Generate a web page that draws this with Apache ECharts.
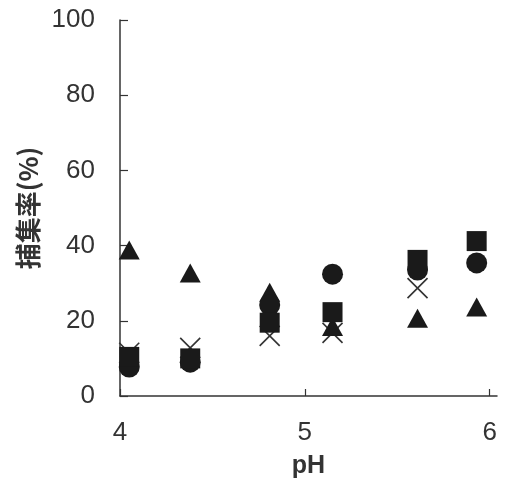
<!DOCTYPE html>
<html>
<head>
<meta charset="utf-8">
<script src="https://cdn.jsdelivr.net/npm/echarts@6/dist/echarts.min.js"></script>
<style>
  html, body { margin: 0; padding: 0; background: #fff; }
  #chart { width: 506px; height: 488px; }
</style>
</head>
<body>
<div id="chart"></div>
<script>
// pH values of the six measurement groups
var phValues = [4.05, 4.38, 4.81, 5.15, 5.61, 5.93]
// capture rate (%) per marker series
var triangleData = [38.8, 32.7, 27.6, 18.5, 20.7, 23.7]
var squareData = [10.4, 10.0, 19.5, 22.3, 36.2, 41.2]
var circleData = [7.7, 9.0, 24.2, 32.4, 33.5, 35.4]
var crossData = [11.5, 12.8, 16.0, 16.8, 28.7]
var xTicks = [4, 5, 6]
var yTicks = [0, 20, 40, 60, 80, 100]

function pairs(xs, ys) {
  return ys.map(function (v, i) { return [xs[i], v] })
}

var chart = echarts.init(document.getElementById('chart'))
var axisColor = '#333'
var markColor = '#1a1a1a'
chart.setOption({
  animation: false,
  grid: {
    left: 120,
    top: 20,
    right: 9,
    bottom: 92
  },
  xAxis: {
    type: 'value',
    min: 4,
    max: 6.04,
    interval: 1,
    name: 'pH',
    nameLocation: 'middle',
    nameGap: 58,
    nameTextStyle: {
      color: axisColor,
      fontSize: 25,
      fontWeight: 'bold',
      fontFamily: 'Liberation Sans'
    },
    axisLine: { lineStyle: { color: axisColor, width: 1.5 } },
    axisTick: {
      inside: true,
      length: 7,
      customValues: xTicks,
      lineStyle: { color: axisColor, width: 1.2 }
    },
    axisLabel: {
      customValues: xTicks,
      margin: 24,
      color: axisColor,
      fontSize: 26,
      fontFamily: 'Liberation Sans'
    },
    splitLine: { show: false }
  },
  yAxis: {
    type: 'value',
    min: 0,
    max: 100,
    interval: 20,
    name: '捕集率(%)',
    nameLocation: 'middle',
    nameGap: 78,
    nameTextStyle: {
      color: axisColor,
      fontSize: 26,
      fontWeight: 'bold',
      fontFamily: 'Noto Sans CJK JP'
    },
    axisLine: { show: true, lineStyle: { color: axisColor, width: 1.5 } },
    axisTick: {
      show: true,
      inside: true,
      length: 8,
      customValues: yTicks,
      lineStyle: { color: axisColor, width: 1.2 }
    },
    axisLabel: {
      margin: 25,
      color: axisColor,
      fontSize: 26,
      fontFamily: 'Liberation Sans'
    },
    splitLine: { show: false }
  },
  series: [
    {
      name: 'cross',
      type: 'scatter',
      symbol: 'path://M0,0L10,10M10,0L0,10',
      symbolSize: 20,
      itemStyle: { color: 'transparent', borderColor: '#333', borderWidth: 1.6, opacity: 1 },
      data: pairs(phValues, crossData)
    },
    {
      name: 'triangle',
      type: 'scatter',
      symbol: 'triangle',
      symbolSize: [21, 19],
      itemStyle: { color: markColor, opacity: 1 },
      data: pairs(phValues, triangleData)
    },
    {
      name: 'circle',
      type: 'scatter',
      symbol: 'circle',
      symbolSize: 21,
      itemStyle: { color: markColor, opacity: 1 },
      data: pairs(phValues, circleData)
    },
    {
      name: 'square',
      type: 'scatter',
      symbol: 'rect',
      symbolSize: 20,
      itemStyle: { color: markColor, opacity: 1 },
      data: pairs(phValues, squareData)
    }
  ]
})
</script>
</body>
</html>
